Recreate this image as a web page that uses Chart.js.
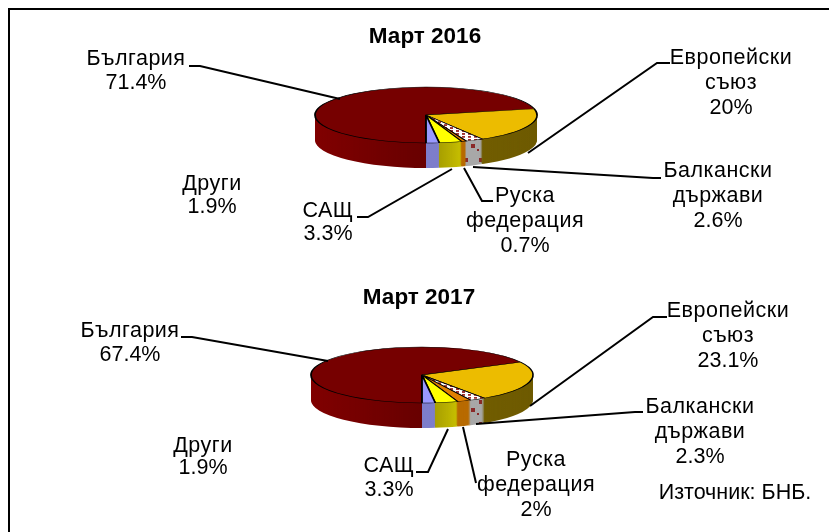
<!DOCTYPE html>
<html>
<head>
<meta charset="utf-8">
<title>Март 2016 / Март 2017</title>
<script src="https://cdn.jsdelivr.net/npm/chart.js@4"></script>
<style>
html, body { margin: 0; padding: 0; background: #fff; overflow: hidden; }
#wrap { position: relative; width: 829px; height: 532px; }
#frame { position: absolute; left: 8px; top: 8px; right: 0; bottom: 0; border-left: 2px solid #000; border-top: 2px solid #000; }
canvas { position: absolute; left: 0; top: 0; }
</style>
</head>
<body>
<div id="wrap">
  <div id="frame"></div>
  <canvas id="chart2016" width="829" height="532"></canvas>
  <canvas id="chart2017" width="829" height="532"></canvas>
</div>
<script>
var categories = ["България", "Европейски съюз", "Балкански държави", "Руска федерация", "САЩ", "Други"]
var values2016 = [71.4, 20, 2.6, 0.7, 3.3, 1.9]
var values2017 = [67.4, 23.1, 2.3, 2, 3.3, 1.9]
var titles = ["Март 2016", "Март 2017"]
var source = "Източник: БНБ."

var topColors = ["#760000", "#ecbc00", "#f0e0e0", "#e08000", "#ffff00", "#9999ff"]
var sideLeft = ["#800000", "#7a6500", "#a0a0a0", "#b86a00", "#a89f00", "#7a7ac8"]
var sideRight = ["#680000", "#6e5a00", "#a0a0a0", "#b86a00", "#c4bc00", "#8080cc"]

var FONT = '"Liberation Sans", Arial, sans-serif'
var RADIUS = 111, SQUASH = 0.252, DEPTH = 25

// where the labels and leader lines sit, one entry per category: [x, baseline of first line, line step]
var labels2016 = [[136, 65, 24], [731, 64, 25], [718, 177, 25], [525, 202, 25], [328, 217, 23], [212, 190, 23]]
var labels2017 = [[130, 337, 24], [728, 317, 25], [700, 413, 25], [536, 466, 25], [389, 472, 24], [203, 452, 22]]
var leaders2016 = [
    [[189, 66], [200, 66], [340, 99]],
    [[670, 63], [657, 63], [528, 153]],
    [[473, 167], [653, 178], [661, 178]],
    [[464, 168], [482, 201], [493, 201]],
    [[452, 169], [368, 217], [357, 217]]
]
var leaders2017 = [
    [[181, 337], [192, 337], [328, 361]],
    [[667, 317], [653, 317], [530, 406]],
    [[476, 424], [635, 412], [643, 412]],
    [[463, 427], [476, 483]],
    [[448, 429], [428, 472], [416, 472]]
]

function topPattern() {
    var c = document.createElement("canvas")
    c.width = 6; c.height = 6
    var x = c.getContext("2d")
    x.fillStyle = "#fff"
    x.fillRect(0, 0, 6, 6)
    x.fillStyle = "#a03030"
    x.fillRect(0, 0, 3, 3)
    return x.createPattern(c, "repeat")
}

function sidePattern() {
    var c = document.createElement("canvas")
    c.width = 14; c.height = 22
    var x = c.getContext("2d")
    x.fillStyle = "#a8a8a8"
    x.fillRect(0, 0, 14, 22)
    x.fillStyle = "#8a2a2a"
    x.fillRect(3, 4, 3, 4)
    x.fillRect(9, 12, 4, 4)
    x.fillRect(1, 17, 2, 2)
    return x.createPattern(c, "repeat")
}

function tiltPlugin(title, titleX, titleY, labelPos, leaders, values, extra) {
    return {
        id: "tilt",
        beforeDatasetsDraw(chart) {
            var ctx = chart.ctx
            var arcs = chart.getDatasetMeta(0).data
            var cx = arcs[0].x, cy = arcs[0].y
            var side = sidePattern()
            ctx.save()
            ctx.filter = "blur(0.5px)"
            for (let d = DEPTH; d >= 1; d--) {
                ctx.save()
                ctx.translate(cx, cy + d)
                ctx.scale(1, SQUASH)
                ctx.translate(-cx, -cy)
                arcs.forEach(function (arc, i) {
                    var fill = ctx.createLinearGradient(cx - RADIUS, 0, cx + RADIUS, 0)
                    fill.addColorStop(0, sideLeft[i])
                    fill.addColorStop(1, sideRight[i])
                    if (i == 0) {
                        fill = ctx.createLinearGradient(cx - RADIUS, 0, cx, 0)
                        fill.addColorStop(0, sideLeft[i])
                        fill.addColorStop(1, sideRight[i])
                    }
                    if (i == 4) {
                        fill = ctx.createLinearGradient(cx + RADIUS * 0.12, 0, cx + RADIUS * 0.3, 0)
                        fill.addColorStop(0, sideLeft[i])
                        fill.addColorStop(1, sideRight[i])
                    }
                    if (i == 2) {
                        side.setTransform(ctx.getTransform().inverse())
                        fill = side
                    }
                    var copy = Object.create(arc)
                    copy.options = Object.assign({}, arc.options, { backgroundColor: fill, borderWidth: 0 })
                    Chart.ArcElement.prototype.draw.call(copy, ctx)
                })
                ctx.restore()
            }
            ctx.restore()
            // top face gets squashed by the same transform
            ctx.save()
            ctx.filter = "blur(0.4px)"
            ctx.translate(cx, cy)
            ctx.scale(1, SQUASH)
            ctx.translate(-cx, -cy)
        },
        afterDatasetsDraw(chart) {
            chart.ctx.restore()
        },
        afterDraw(chart) {
            var ctx = chart.ctx
            ctx.save()
            ctx.strokeStyle = "#000"
            ctx.lineWidth = 2
            leaders.forEach(function (line) {
                ctx.beginPath()
                line.forEach(function (p, i) {
                    if (i == 0) ctx.moveTo(p[0], p[1])
                    else ctx.lineTo(p[0], p[1])
                })
                ctx.stroke()
            })
            ctx.fillStyle = "#000"
            ctx.textAlign = "center"
            ctx.textBaseline = "alphabetic"
            ctx.font = "bold 22.5px " + FONT
            ctx.fillText(title, titleX, titleY)
            ctx.font = "21.5px " + FONT
            categories.forEach(function (name, i) {
                var words = name.split(" ")
                var pos = labelPos[i]
                ctx.letterSpacing = "0.5px"
                words.forEach(function (t, j) {
                    ctx.fillText(t, pos[0], pos[1] + j * pos[2])
                })
                ctx.letterSpacing = "0px"
                ctx.fillText(values[i] + "%", pos[0], pos[1] + words.length * pos[2])
            })
            if (extra) ctx.fillText(extra[0], extra[1], extra[2])
            ctx.restore()
        }
    }
}

function makePie(id, values, cx, cy, plugin) {
    var colors = topColors.slice()
    colors[2] = topPattern()
    return new Chart(document.getElementById(id), {
        type: "pie",
        data: {
            labels: categories,
            datasets: [{
                data: values,
                backgroundColor: colors,
                borderColor: "#000",
                borderWidth: 1.8,
                clip: false
            }]
        },
        options: {
            responsive: false,
            animation: false,
            events: [],
            rotation: 180,
            radius: RADIUS,
            layout: { padding: { left: cx - 100, right: 829 - cx - 100, top: cy - 100, bottom: 532 - cy - 100 } },
            plugins: { legend: { display: false }, tooltip: { enabled: false } }
        },
        plugins: [plugin]
    })
}

makePie("chart2016", values2016, 426, 115,
    tiltPlugin(titles[0], 425, 43, labels2016, leaders2016, values2016))
makePie("chart2017", values2017, 422, 375,
    tiltPlugin(titles[1], 419, 304, labels2017, leaders2017, values2017, [source, 735, 499]))
</script>
</body>
</html>
